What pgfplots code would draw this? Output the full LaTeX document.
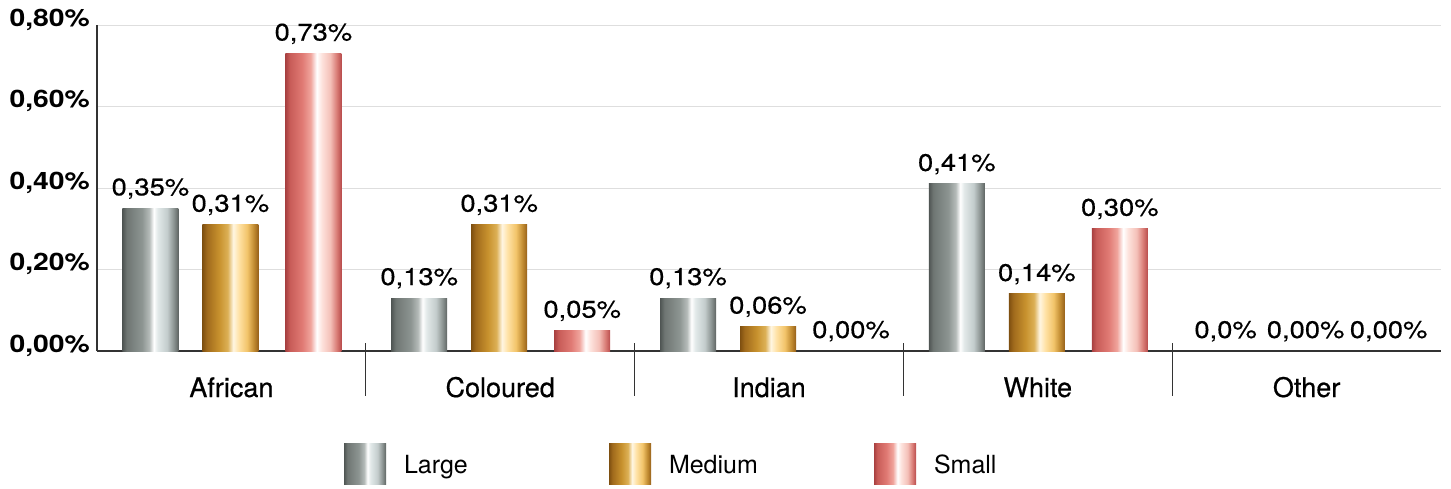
\documentclass[border=0pt]{standalone}
\usepackage{pgfplots}
\pgfplotsset{compat=1.18}
\usepackage{fontspec}
\setmainfont{TeX Gyre Heros}
\newfontfamily\numfont[FakeStretch=1.18]{TeX Gyre Heros}
\newfontfamily\valfont[FakeStretch=1.14, FakeBold=0.4]{TeX Gyre Heros}
\newfontfamily\catfont[FakeBold=0.5]{TeX Gyre Heros}

\definecolor{axisgray}{HTML}{333333}
\definecolor{gridgray}{HTML}{DEDEDE}

% silver
\definecolor{lg0}{HTML}{4F5553}\definecolor{lg1}{HTML}{6F7673}
\definecolor{lg2}{HTML}{8D9592}\definecolor{lg3}{HTML}{B5BBB9}
\definecolor{lg4}{HTML}{FFFFFF}\definecolor{lg5}{HTML}{E2E9E9}
\definecolor{lg6}{HTML}{C3CCCC}\definecolor{lg7}{HTML}{8A9290}
\definecolor{lg8}{HTML}{5E6462}
% gold
\definecolor{md0}{HTML}{7E4F10}\definecolor{md1}{HTML}{A06A1C}
\definecolor{md2}{HTML}{C8922E}\definecolor{md3}{HTML}{DCB056}
\definecolor{md4}{HTML}{FFF6E2}\definecolor{md5}{HTML}{FFE2A6}
\definecolor{md6}{HTML}{F2C46A}\definecolor{md7}{HTML}{C08A30}
\definecolor{md8}{HTML}{96601A}
% red
\definecolor{sm0}{HTML}{A84040}\definecolor{sm1}{HTML}{C85C58}
\definecolor{sm2}{HTML}{E07A74}\definecolor{sm3}{HTML}{F0A49C}
\definecolor{sm4}{HTML}{FFFFFF}\definecolor{sm5}{HTML}{FDE2DC}
\definecolor{sm6}{HTML}{F4C0B8}\definecolor{sm7}{HTML}{D87A74}
\definecolor{sm8}{HTML}{B84C4C}

\pgfdeclarehorizontalshading{largeshade}{100bp}{%
  color(0bp)=(lg0); color(25bp)=(lg0); color(29bp)=(lg1); color(42.5bp)=(lg2);
  color(49bp)=(lg3); color(53bp)=(lg4); color(56.5bp)=(lg5); color(65bp)=(lg6);
  color(71bp)=(lg7); color(75bp)=(lg8); color(100bp)=(lg8)}
\pgfdeclarehorizontalshading{mediumshade}{100bp}{%
  color(0bp)=(md0); color(25bp)=(md0); color(29bp)=(md1); color(40bp)=(md2);
  color(47.5bp)=(md3); color(52.5bp)=(md4); color(57.5bp)=(md5); color(65bp)=(md6);
  color(71bp)=(md7); color(75bp)=(md8); color(100bp)=(md8)}
\pgfdeclarehorizontalshading{smallshade}{100bp}{%
  color(0bp)=(sm0); color(25bp)=(sm0); color(29bp)=(sm1); color(40bp)=(sm2);
  color(47.5bp)=(sm3); color(53bp)=(sm4); color(57.5bp)=(sm5); color(65bp)=(sm6);
  color(71bp)=(sm7); color(75bp)=(sm8); color(100bp)=(sm8)}

% each bar is its own plot so that every bar carries the full metallic shading
\pgfplotsset{
  largebar/.style={draw=none, shading=largeshade, bar shift=-81pt,
    legend image code/.code={\shade[shading=largeshade] (0pt,-11pt) rectangle (42pt,30pt);}},
  mediumbar/.style={draw=none, shading=mediumshade, bar shift=-1pt,
    legend image code/.code={\shade[shading=mediumshade] (0pt,-11pt) rectangle (42pt,30pt);}},
  smallbar/.style={draw=none, shading=smallshade, bar shift=82pt,
    legend image code/.code={\shade[shading=smallshade] (0pt,-11pt) rectangle (42pt,30pt);}},
}

\begin{document}
\begin{tikzpicture}
\path[use as bounding box] (0,0) rectangle (1451pt,488pt);
\begin{axis}[
  at={(97pt,137pt)}, anchor=south west,
  scale only axis, width=1344pt, height=326pt,
  xmin=-0.5, xmax=4.5, ymin=0, ymax=0.8,
  axis x line*=bottom, axis y line*=left,
  axis line style={draw=axisgray, line width=1.3pt, -},
  xtick={0,1,2,3,4},
  xticklabels={African,Coloured,Indian,White,Other},
  ytick={0,0.2,0.4,0.6,0.8},
  yticklabels={0{,}00\%,0{,}20\%,0{,}40\%,0{,}60\%,0{,}80\%},
  major tick length=0pt,
  ymajorgrids, grid style={draw=gridgray, line width=1pt},
  xticklabel style={anchor=base, inner sep=0pt, yshift=-46pt,
    font=\catfont\fontsize{27}{27}\selectfont},
  yticklabel style={anchor=base east, inner sep=0pt, xshift=-7pt, yshift=-1pt,
    font=\numfont\bfseries\fontsize{24}{24}\selectfont},
  ybar, bar width=56pt,
  point meta=explicit symbolic,
  nodes near coords,
  every node near coord/.append style={anchor=base, inner sep=0pt, yshift=13pt,
    text=black, font=\valfont\fontsize{24}{24}\selectfont},
  clip=false,
  legend columns=3,
  legend style={at={(0,0)}, anchor=west, xshift=247pt, yshift=-112.5pt,
    draw=none, fill=none, inner sep=0pt, outer sep=0pt,
    nodes={inner sep=0pt, text width=205pt, align=left, anchor=base west,
      font=\fontsize{25}{25}\selectfont},
    /tikz/every odd column/.append style={column sep=18pt},
    /tikz/every even column/.append style={column sep=0pt}},
]
% African
\addplot[largebar]  coordinates {(0,0.35)[0,35\%]}; \addlegendentry{Large}
\addplot[mediumbar] coordinates {(0,0.31)[0,31\%]}; \addlegendentry{Medium}
\addplot[smallbar]  coordinates {(0,0.73)[0,73\%]}; \addlegendentry{Small}
% Coloured
\addplot[largebar, forget plot]  coordinates {(1,0.13)[0,13\%]};
\addplot[mediumbar, forget plot] coordinates {(1,0.31)[0,31\%]};
\addplot[smallbar, forget plot]  coordinates {(1,0.05)[0,05\%]};
% Indian
\addplot[largebar, forget plot]  coordinates {(2,0.13)[0,13\%]};
\addplot[mediumbar, forget plot] coordinates {(2,0.06)[0,06\%]};
\addplot[smallbar, forget plot]  coordinates {(2,0.00)[0,00\%]};
% White
\addplot[largebar, forget plot]  coordinates {(3,0.41)[0,41\%]};
\addplot[mediumbar, forget plot] coordinates {(3,0.14)[0,14\%]};
\addplot[smallbar, forget plot]  coordinates {(3,0.30)[0,30\%]};
% Other
\addplot[largebar, forget plot]  coordinates {(4,0.00)[0,0\%]};
\addplot[mediumbar, forget plot] coordinates {(4,0.00)[0,00\%]};
\addplot[smallbar, forget plot]  coordinates {(4,0.00)[0,00\%]};
% group separators
\foreach \s in {0.5,1.5,2.5,3.5}{
  \edef\tmp{\noexpand\draw[axisgray, line width=1.1pt]
    ([yshift=8pt]axis cs:\s,0) -- ([yshift=-45pt]axis cs:\s,0);}\tmp
}
\end{axis}
\end{tikzpicture}
\end{document}
